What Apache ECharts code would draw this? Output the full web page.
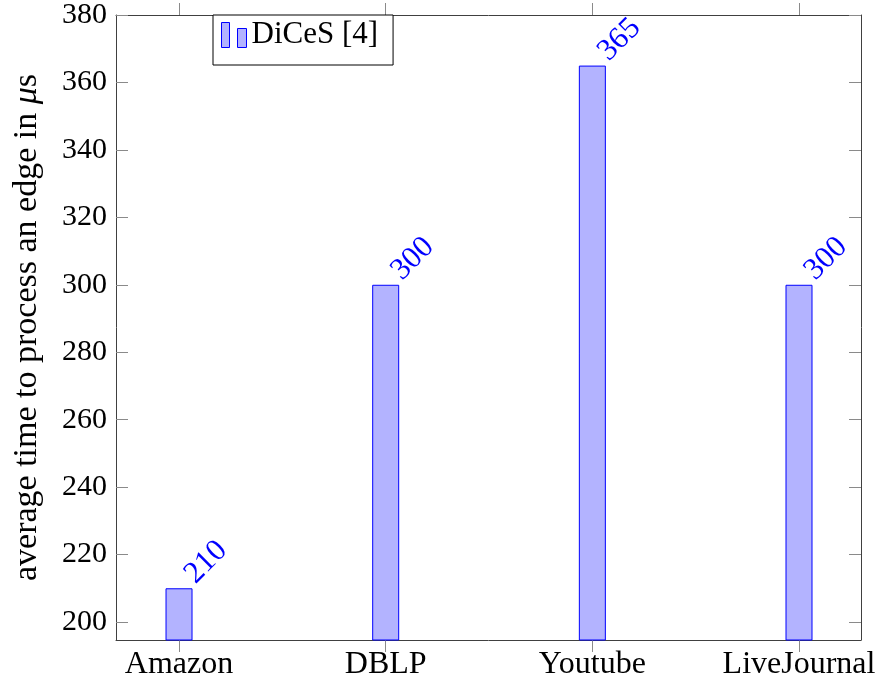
<!DOCTYPE html>
<html>
<head>
<meta charset="utf-8">
<script src="https://cdn.jsdelivr.net/npm/echarts@6/dist/echarts.min.js"></script>
<style>html,body{margin:0;padding:0;background:#fff}#c{width:882px;height:690px}</style>
</head>
<body>
<div id="c"></div>
<script>
var categories = ['Amazon', 'DBLP', 'Youtube', 'LiveJournal'];
var seriesName = 'DiCeS [4]';
var values = [210, 300, 365, 300];
var yTicks = [200, 220, 240, 260, 280, 300, 320, 340, 360, 380];
var xTicks = [0, 1, 2, 3];

var FONT = 'Liberation Serif';
var frame = '#404040';
var tickC = '#8a8a8a';
var yMin = 194.66, yMax = 380, xMin = -0.305, xMax = 3.30;

var chart = echarts.init(document.getElementById('c'), null, {renderer: 'canvas'});
var opt = {
  animation: false,
  backgroundColor: '#fff',
  grid: {left: 116, right: 21, top: 15, bottom: 50, containLabel: false},
  legend: {
    data: [seriesName],
    left: 213, top: 15,
    backgroundColor: '#fff',
    borderColor: '#000', borderWidth: 1,
    padding: [0, 15, 10, 8],
    itemWidth: 25, itemHeight: 25, itemGap: 0,
    icon: 'path://M0,0H8V25H0Z M16,6H25V25H16Z',
    itemStyle: {color: '#b3b3ff', borderColor: '#0000ff', borderWidth: 1},
    textStyle: {fontFamily: FONT, fontSize: 31, color: '#000', lineHeight: 30, padding: [10, 0, 0, 0]}
  },
  xAxis: [{
    type: 'value', min: xMin, max: xMax, position: 'bottom',
    axisLine: {show: true, onZero: false, lineStyle: {color: frame, width: 1}},
    axisTick: {show: true, inside: false, length: 12, customValues: xTicks, lineStyle: {color: tickC}},
    axisLabel: {customValues: xTicks, formatter: function (v) { return categories[Math.round(v)]; },
      fontFamily: FONT, fontSize: 32, color: '#000', margin: 9},
    splitLine: {show: false}
  }, {
    type: 'value', min: xMin, max: xMax, position: 'top',
    axisLine: {show: true, onZero: false, lineStyle: {color: frame, width: 1}},
    axisTick: {show: true, inside: false, length: 12, customValues: xTicks, lineStyle: {color: tickC}},
    axisLabel: {show: false},
    splitLine: {show: false}
  }],
  yAxis: [{
    type: 'value', min: yMin, max: yMax, position: 'left',
    name: '{n|average time to process an edge in }{i|μ}{n|s}',
    nameLocation: 'middle', nameRotate: 90, nameGap: 72,
    nameTextStyle: {
      rich: {
        n: {fontFamily: FONT, fontSize: 34, color: '#000'},
        i: {fontFamily: FONT, fontSize: 34, color: '#000', fontStyle: 'italic'}
      }
    },
    axisLine: {show: true, onZero: false, lineStyle: {color: frame, width: 1}},
    axisTick: {show: true, inside: true, length: 12, customValues: yTicks, lineStyle: {color: tickC}},
    axisLabel: {customValues: yTicks, fontFamily: FONT, fontSize: 30, color: '#000', margin: 9},
    splitLine: {show: false}
  }, {
    type: 'value', min: yMin, max: yMax, position: 'right',
    axisLine: {show: true, onZero: false, lineStyle: {color: frame, width: 1}},
    axisTick: {show: true, inside: true, length: 12, customValues: yTicks, lineStyle: {color: tickC}},
    axisLabel: {show: false},
    splitLine: {show: false}
  }],
  series: [{
    name: seriesName,
    type: 'bar',
    xAxisIndex: 0, yAxisIndex: 0,
    barWidth: 27,
    data: values.map(function (v, i) { return [xTicks[i], v]; }),
    itemStyle: {color: '#b3b3ff', borderColor: '#0000ff', borderWidth: 1},
    label: {
      show: true, position: 'top', distance: 6, rotate: 45,
      align: 'left', verticalAlign: 'middle', offset: [10, 5],
      formatter: function (p) { return String(p.value[1]); },
      fontFamily: FONT, fontSize: 31, color: '#0000ff'
    }
  }]
};
chart.setOption(opt);
</script>
</body>
</html>
